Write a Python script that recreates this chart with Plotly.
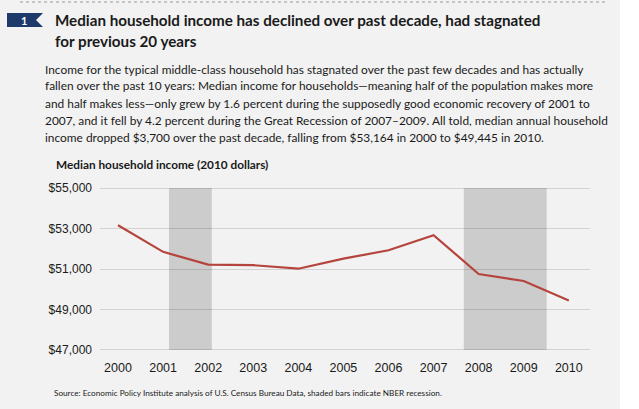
import plotly.graph_objects as go

# Median household income, 2010 dollars
years = [2000, 2001, 2002, 2003, 2004, 2005, 2006, 2007, 2008, 2009, 2010]
income = [53164, 51847, 51218, 51188, 51015, 51513, 51924, 52673, 50753, 50408, 49445]

# NBER recessions (shaded bars), in fractional years
recession_start = [2001.13, 2007.67]
recession_end = [2002.08, 2009.51]

y_ticks = [47000, 49000, 51000, 53000, 55000]
y_labels = ["$47,000", "$49,000", "$51,000", "$53,000", "$55,000"]

title_lines = [
    "Median household income has declined over past decade, had stagnated",
    "for previous 20 years",
]
body_lines = [
    "Income for the typical middle-class household has stagnated over the past few decades and has actually",
    "fallen over the past 10 years: Median income for households\u2014meaning half of the population makes more",
    "and half makes less\u2014only grew by 1.6 percent during the supposedly good economic recovery of 2001 to",
    "2007, and it fell by 4.2 percent during the Great Recession of 2007\u20132009. All told, median annual household",
    "income dropped $3,700 over the past decade, falling from $53,164 in 2000 to $49,445 in 2010.",
]
chart_label = "Median household income (2010 dollars)"
source = "Source: Economic Policy Institute analysis of U.S. Census Bureau Data, shaded bars indicate NBER recession."

W, H = 639, 409
L, R, T, B = 100, 49, 187, 58
FONT = "Lato, Liberation Sans, sans-serif"
TICKFONT = "Liberation Sans, Arial, sans-serif"


# pixel -> paper coordinates
def px(x):
    return (x - L) / (W - L - R)


def py(y):
    return (H - B - y) / (H - T - B)


fig = go.Figure()
fig.add_trace(go.Scatter(x=years, y=income, mode="lines",
                         line=dict(color="#b5443e", width=2.2),
                         hoverinfo="x+y", showlegend=False))

shapes = []
for x0, x1 in zip(recession_start, recession_end):
    shapes.append(dict(type="rect", xref="x", yref="y", x0=x0, x1=x1,
                       y0=min(y_ticks), y1=max(y_ticks), fillcolor="#cccccc",
                       line=dict(width=0), layer="below"))

# white strip at the right, dotted rule at the top
shapes.append(dict(type="rect", xref="paper", yref="paper", x0=px(620), x1=px(W + 5),
                   y0=py(H + 5), y1=py(-5), fillcolor="white", line=dict(width=0)))
shapes.append(dict(type="line", xref="paper", yref="paper", x0=px(20), x1=px(607),
                   y0=py(2), y1=py(2), line=dict(color="#999999", width=1, dash="dot")))

# numbered badge
badge = "M {} {} L {} {} L {} {} L {} {} L {} {} Z".format(
    px(7), py(13), px(43), py(13), px(36), py(20), px(43), py(27), px(7), py(27))
shapes.append(dict(type="path", xref="paper", yref="paper", path=badge,
                   fillcolor="#1d3a6b", line=dict(width=0)))

annotations = [dict(x=px(24), y=py(20), xref="paper", yref="paper", text="<b>1</b>",
                    showarrow=False, xanchor="center", yanchor="middle",
                    font=dict(family=FONT, size=11, color="white"))]

for i, line in enumerate(title_lines):
    annotations.append(dict(x=px(53), y=py(20 + 21 * i), xref="paper", yref="paper",
                            text="<b>" + line + "</b>", showarrow=False,
                            xanchor="left", yanchor="middle",
                            font=dict(family=FONT, size=15.2, color="#1a1a1a")))

for i, line in enumerate(body_lines):
    annotations.append(dict(x=px(43), y=py(69 + 17 * i), xref="paper", yref="paper",
                            text=line, showarrow=False, xanchor="left", yanchor="middle",
                            font=dict(family=FONT, size=11.9, color="#1a1a1a")))

annotations.append(dict(x=px(54), y=py(164), xref="paper", yref="paper",
                        text="<b>" + chart_label + "</b>", showarrow=False,
                        xanchor="left", yanchor="middle",
                        font=dict(family=FONT, size=11.8, color="#1a1a1a")))

annotations.append(dict(x=px(52), y=py(393), xref="paper", yref="paper",
                        text=source, showarrow=False, xanchor="left", yanchor="middle",
                        font=dict(family=FONT, size=8.2, color="#1a1a1a")))

fig.update_layout(
    width=W, height=H,
    margin=dict(l=L, r=R, t=T, b=B),
    paper_bgcolor="#f2f2f2", plot_bgcolor="#f2f2f2",
    shapes=shapes, annotations=annotations,
    xaxis=dict(range=[1999.6, 2010.47], tickvals=years, showgrid=False,
               zeroline=False, showline=False, ticks="", ticklabelstandoff=7,
               tickfont=dict(family=TICKFONT, size=12.5, color="#1a1a1a")),
    yaxis=dict(range=[46950, 55050], tickvals=y_ticks, ticktext=y_labels,
               showgrid=True, gridcolor="rgba(0,0,0,0.13)", gridwidth=1,
               zeroline=False, showline=False, ticks="", ticklabelstandoff=7,
               tickfont=dict(family=TICKFONT, size=12, color="#1a1a1a")),
)

# drop the page's default body margin so the figure sits at the window's corner
fig.write_html("out.html", config={"displayModeBar": False},
               post_script="document.body.style.margin='0';document.body.style.overflow='hidden';")
